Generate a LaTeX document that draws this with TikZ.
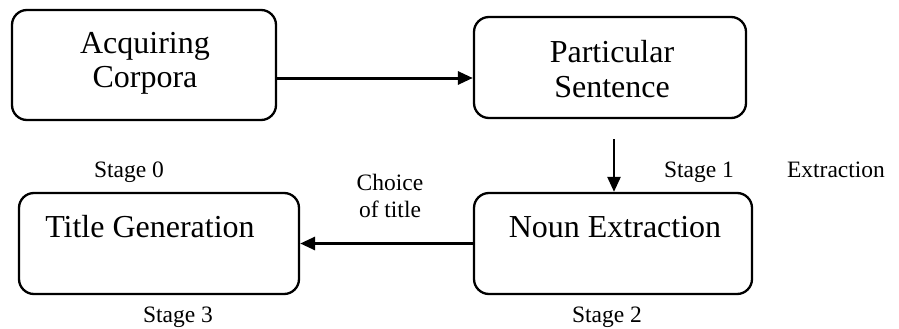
\documentclass[tikz,border=0pt]{standalone}
\usepackage{fontspec}
\setmainfont{Liberation Serif}
\usetikzlibrary{arrows.meta}
\begin{document}
\begin{tikzpicture}[x=1pt,y=-1pt,
  box/.style={draw=black,line width=2.3pt,rounded corners=15pt,minimum width=#1,inner sep=0pt},
  big/.style={font=\fontsize{32}{35}\selectfont,align=center,inner sep=0pt,anchor=base},
  small/.style={font=\fontsize{23.5}{27}\selectfont,align=center,inner sep=0pt,anchor=base},
  arr/.style={line width=3pt,-{Triangle[length=15pt,width=13pt]}}]
\useasboundingbox (0,0) rectangle (899,329);
% boxes
\node[box=264pt,minimum height=110pt] (b1) at (144,65) {};
\node[box=272pt,minimum height=101pt] (b2) at (610,67.5) {};
\node[box=278pt,minimum height=101pt] (b3) at (613,243.5) {};
\node[box=280pt,minimum height=101pt] (b4) at (159,243.5) {};
% box texts
\node[big] (t1) at (145,88) {Acquiring\\Corpora};
\node[big] (t2) at (612,97) {Particular\\Sentence};
\node[big] (t3) at (615,237) {Noun Extraction};
\node[big] (t4) at (150,237) {Title Generation};
% labels
\node[small] (s0) at (129,177) {Stage 0};
\node[small] (s1) at (699,177) {Stage 1};
\node[small] (ex) at (836,177) {Extraction};
\node[small] (ch) at (390,217) {Choice\\of title};
\node[small] (s3) at (178,322) {Stage 3};
\node[small] (s2) at (607,322) {Stage 2};
% connectors
\coordinate (v1) at (614,139);
\draw[arr] ([yshift=-13pt]b1.east) -- ([yshift=-13pt]b1.east -| b2.west);
\draw[arr,line width=2.5pt] (v1) -- (v1 |- b3.north);
\draw[arr] (b3.west) -- (b4.east);
\end{tikzpicture}
\end{document}
